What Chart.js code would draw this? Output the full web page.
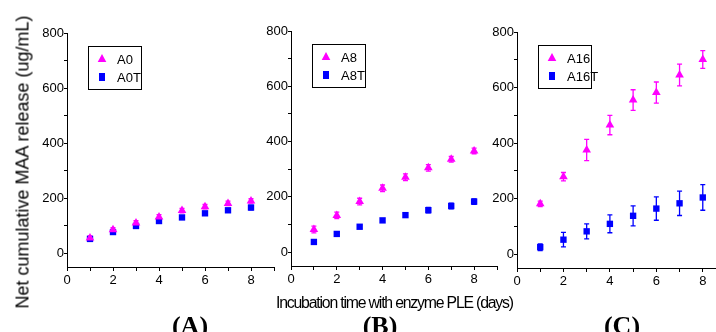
<!DOCTYPE html>
<html>
<head>
<meta charset="utf-8">
<script src="https://cdn.jsdelivr.net/npm/chart.js@4.4.0/dist/chart.umd.min.js"></script>
<style>
  body { margin: 0; width: 716px; height: 332px; overflow: hidden; background: #fff; position: relative; font-family: "Liberation Sans", Arial, sans-serif; }
  canvas { position: absolute; top: 0; }
  #ytitle { position: absolute; left: 23px; top: 162px; font-size: 18px; white-space: nowrap; transform: translate(-50%, -50%) rotate(-90deg); }
  #xtitle { position: absolute; left: 276px; top: 294px; font-size: 16px; letter-spacing: -1.2px; white-space: nowrap; transform-origin: 0 0; }
  .plabel { position: absolute; top: 311px; font-family: "Liberation Serif", "Times New Roman", serif; font-weight: bold; font-size: 26px; transform: translateX(-50%); }
</style>
</head>
<body>
<canvas id="chartA" width="280" height="300" style="left:0px"></canvas>
<canvas id="chartB" width="262" height="300" style="left:240px"></canvas>
<canvas id="chartC" width="270" height="300" style="left:470px"></canvas>
<div id="ytitle">Net cumulative MAA release (ug/mL)</div>
<div id="xtitle">Incubation time with enzyme PLE (days)</div>
<div class="plabel" style="left:190px">(A)</div>
<div class="plabel" style="left:380px">(B)</div>
<div class="plabel" style="left:622px">(C)</div>
<script>
// data
const days = [1, 2, 3, 4, 5, 6, 7, 8];

const a0 = [55, 85, 110, 132, 155, 169, 181, 190];
const a0Err = [8, 8, 8, 8, 8, 8, 8, 8];
const a0T = [52, 77, 99, 117, 130, 145, 156, 166];
const a0TErr = [6, 6, 6, 6, 6, 6, 6, 8];

const a8 = [82, 133, 183, 231, 271, 305, 336, 366];
const a8Err = [12, 12, 12, 12, 12, 12, 10, 10];
const a8T = [37, 66, 92, 115, 134, 152, 167, 183];
const a8TErr = [6, 6, 6, 6, 8, 10, 10, 10];

const a16 = [181, 279, 375, 465, 555, 582, 645, 701];
const a16Err = [10, 15, 38, 35, 37, 38, 39, 32];
const a16T = [25, 52, 82, 109, 138, 164, 183, 204];
const a16TErr = [12, 26, 27, 32, 36, 42, 44, 46];

// labelled ticks, and all tick marks (minor ones unlabelled)
const yTicks = [0, 200, 400, 600, 800];
const yTickMarks = [0, 100, 200, 300, 400, 500, 600, 700, 800];
const xTicks = [0, 2, 4, 6, 8];

const pink = '#ff00ff';
const blue = '#0000ff';

Chart.defaults.color = '#000';
Chart.defaults.font.family = '"Liberation Sans", Arial, sans-serif';
Chart.defaults.font.size = 13;

function toPoints(vals){
    return days.map((d, i) => ({x: d, y: vals[i]}));
}

// error bars under the markers
const errorBars = {
    id: 'errorBars',
    beforeDatasetsDraw(chart){
        const ctx = chart.ctx;
        const xs = chart.scales.x, ys = chart.scales.y;
        chart.data.datasets.forEach(ds => {
            ctx.save();
            ctx.strokeStyle = ds.borderColor;
            ctx.lineWidth = 1.3;
            ds.data.forEach((p, i) => {
                const e = ds.err[i];
                const x = xs.getPixelForValue(p.x);
                const y1 = ys.getPixelForValue(p.y - e);
                const y2 = ys.getPixelForValue(p.y + e);
                ctx.beginPath();
                ctx.moveTo(x, y1); ctx.lineTo(x, y2);
                ctx.moveTo(x - 2.5, y1); ctx.lineTo(x + 2.5, y1);
                ctx.moveTo(x - 2.5, y2); ctx.lineTo(x + 2.5, y2);
                ctx.stroke();
            });
            ctx.restore();
        });
    }
};

// boxed legend inside the plot
const boxLegend = {
    id: 'boxLegend',
    afterDraw(chart){
        const ctx = chart.ctx;
        const ca = chart.chartArea;
        const bx = ca.left + 21, by = ca.top + 13;
        ctx.save();
        ctx.strokeStyle = '#000';
        ctx.lineWidth = 1;
        ctx.strokeRect(bx + 0.5, by + 0.5, 53, 43);
        ctx.font = '13px "Liberation Sans", Arial, sans-serif';
        ctx.textBaseline = 'middle';
        chart.data.datasets.forEach((ds, i) => {
            const mx = bx + 14, my = by + 13 + i * 18;
            ctx.fillStyle = ds.backgroundColor;
            ctx.beginPath();
            if (ds.pointStyle === 'triangle'){
                ctx.moveTo(mx, my - 5); ctx.lineTo(mx + 4.3, my + 3); ctx.lineTo(mx - 4.3, my + 3);
            } else {
                ctx.rect(mx - 3, my - 4, 6, 8);
            }
            ctx.closePath();
            ctx.fill();
            ctx.fillStyle = '#000';
            ctx.fillText(ds.label, bx + 29, my + 1);
        });
        ctx.restore();
    }
};

function makePanel(id, names, series, errs, yAxisW, xAxisH, padTop, padRight){
    return new Chart(document.getElementById(id), {
        type: 'scatter',
        data: {
            datasets: [{
                label: names[0],
                data: toPoints(series[0]),
                err: errs[0],
                pointStyle: 'triangle',
                pointRadius: 5,
                backgroundColor: pink,
                borderColor: pink,
                borderWidth: 0
            }, {
                label: names[1],
                data: toPoints(series[1]),
                err: errs[1],
                pointStyle: 'rect',
                pointRadius: 4.5,
                backgroundColor: blue,
                borderColor: blue,
                borderWidth: 0
            }]
        },
        options: {
            responsive: false,
            animation: false,
            layout: { padding: { left: 0, top: padTop, right: padRight, bottom: 0 } },
            plugins: { legend: { display: false }, tooltip: { enabled: false } },
            scales: {
                x: {
                    type: 'linear', min: 0, max: 9,
                    border: { display: true, color: '#000', width: 1 },
                    grid: { drawOnChartArea: false, drawTicks: true, tickLength: 4, color: '#000' },
                    ticks: { stepSize: 1, autoSkip: false, maxRotation: 0, padding: 2,
                        callback: v => xTicks.includes(v) ? v : '' },
                    afterFit(s){ s.height = xAxisH; }
                },
                y: {
                    type: 'linear', min: -50, max: 800, bounds: 'data',
                    border: { display: true, color: '#000', width: 1 },
                    grid: { drawOnChartArea: false, drawTicks: true, tickLength: 3, color: '#000' },
                    ticks: { autoSkip: false, padding: 0,
                        callback: v => yTicks.includes(v) ? v : '' },
                    afterBuildTicks(s){ s.ticks = yTickMarks.map(v => ({value: v})); },
                    afterFit(s){ s.width = yAxisW; }
                }
            }
        },
        plugins: [errorBars, boxLegend]
    });
}

makePanel('chartA', ['A0', 'A0T'], [a0, a0T], [a0Err, a0TErr], 67, 33, 33, 6);
makePanel('chartB', ['A8', 'A8T'], [a8, a8T], [a8Err, a8TErr], 51, 34, 31, 5);
makePanel('chartC', ['A16', 'A16T'], [a16, a16T], [a16Err, a16TErr], 47, 32, 32, 14);

// squeeze x title to the width it has in the figure
const xt = document.getElementById('xtitle');
xt.style.transform = 'scaleX(' + (237 / xt.offsetWidth) + ')';
</script>
</body>
</html>
